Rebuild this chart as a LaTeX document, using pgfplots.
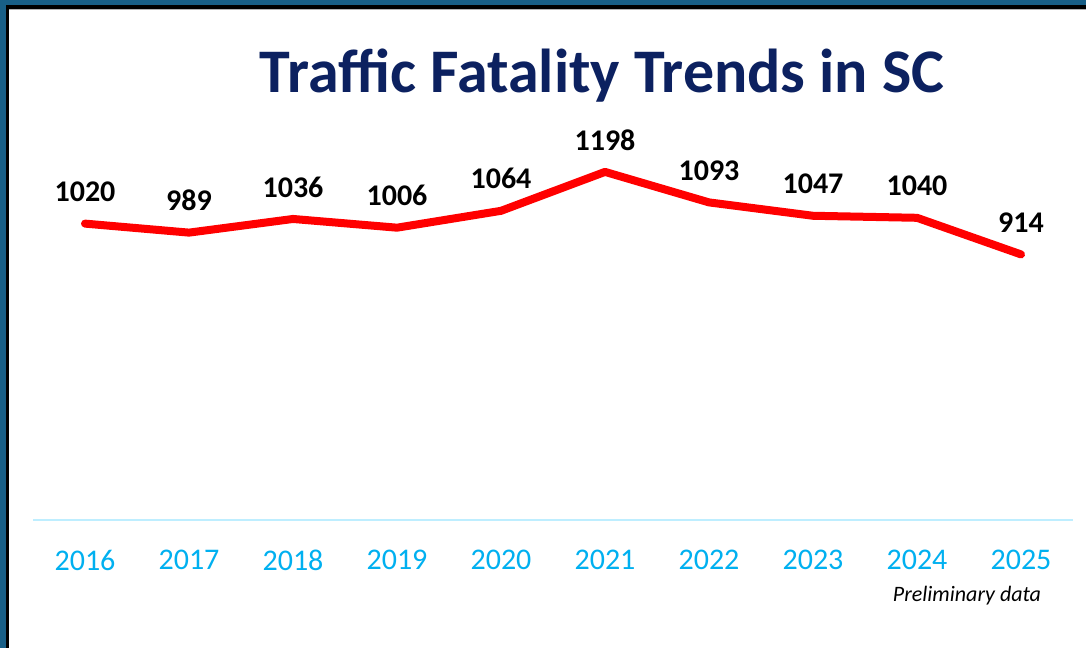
\documentclass[border=0pt]{standalone}
\usepackage{fontspec}
\setmainfont{Carlito}
\usepackage{pgfplots}
\pgfplotsset{compat=1.18}
\definecolor{framebl}{RGB}{24,95,135}
\definecolor{titlenavy}{RGB}{12,33,96}
\definecolor{yearcyan}{RGB}{0,176,240}
\definecolor{axcyan}{RGB}{190,238,255}
\begin{document}
\begin{tikzpicture}
  \path[use as bounding box] (0,0) rectangle (543pt,324pt);
  % slide frame
  \fill[framebl] (0,0) rectangle (543pt,324pt);
  \fill[black] (3pt,0) rectangle (543pt,321.5pt);
  \fill[white] (4.5pt,0) rectangle (543pt,319.5pt);
  \draw[gray!60, line width=0.4pt] (4.5pt,319.4pt) -- (543pt,319.4pt);

  \node[font=\fontsize{31}{37}\selectfont\bfseries, text=titlenavy] at (301pt,286pt) {Traffic Fatality Trends in SC};

  \begin{axis}[
    at={(16.5pt,64pt)}, anchor=south west,
    scale only axis,
    width=520pt, height=203.4pt,
    xmin=-0.5, xmax=9.5,
    ymin=0, ymax=1400,
    axis x line=bottom,
    axis y line=none,
    x axis line style={-, draw=axcyan, line width=0.6pt},
    xtick={0,...,9},
    xticklabels={2016,2017,2018,2019,2020,2021,2022,2023,2024,2025},
    major tick length=0pt,
    xticklabel style={anchor=center, yshift=-20pt, text=yearcyan, font=\fontsize{15}{18}\selectfont},
    ytick=\empty,
    clip=false,
    /pgf/number format/.cd, 1000 sep={}, assume math mode=true, /pgfplots/.cd,
    nodes near coords,
    every node near coord/.append style={anchor=center, yshift=16pt, font=\fontsize{15}{18}\selectfont\bfseries, text=black},
  ]
  \addplot[red, line width=4pt, line join=round, line cap=round] coordinates {
    (0,1020)
    (1,989)
    (2,1036)
    (3,1006)
    (4,1064)
    (5,1198)
    (6,1093)
    (7,1047)
    (8,1040)
    (9,914)
  };
  \end{axis}

  \node[font=\fontsize{11}{13}\selectfont\itshape] at (483.5pt,26pt) {Preliminary data};
\end{tikzpicture}
\end{document}
